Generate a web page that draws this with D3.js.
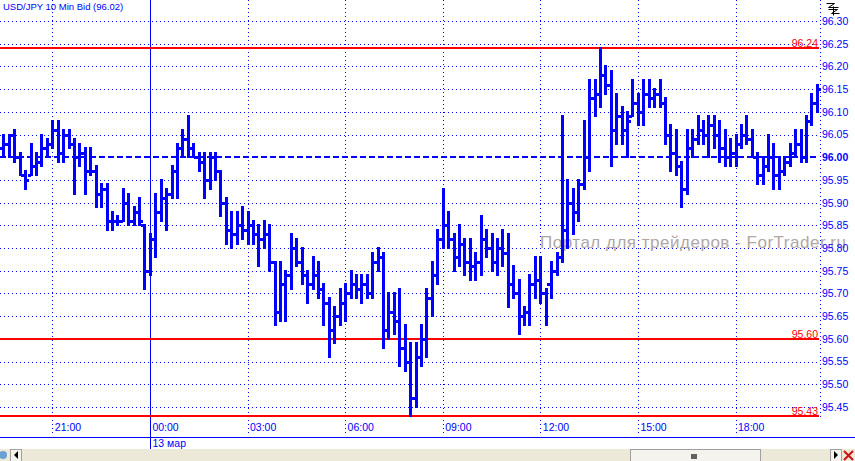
<!DOCTYPE html>
<html>
<head>
<meta charset="utf-8">
<script src="https://cdn.jsdelivr.net/npm/d3@7"></script>
<style>
  body { margin: 0; background: #fff; }
  svg { display: block; font-family: "Liberation Sans", Arial, sans-serif; }
</style>
</head>
<body>
<div id="chart"></div>
<script>
const title = 'USD/JPY 10 Min Bid (96.02)';
const firstBar = new Date(2009, 2, 12, 19, 30);   // 10 minute bars from here

const highs = [
  96.05, 96.05, 96.06, 96.01, 95.97, 96.03, 96.01, 96.05, 96.04, 96.08,
  96.08, 96.06, 96.06, 96.04, 96.03, 96.02, 96.02, 95.98, 95.94, 95.94,
  95.88, 95.87, 95.93, 95.92, 95.89, 95.91, 95.85, 95.83, 95.92, 95.95,
  95.93, 95.98, 96.03, 96.06, 96.09, 96.03, 96.01, 96.01, 96.01, 96.01,
  95.97, 95.91, 95.88, 95.88, 95.89, 95.88, 95.86, 95.85, 95.86, 95.85,
  95.77, 95.77, 95.75, 95.83, 95.82, 95.80, 95.75, 95.78, 95.77, 95.72,
  95.69, 95.67, 95.71, 95.72, 95.75, 95.74, 95.74, 95.74, 95.79, 95.80,
  95.79, 95.70, 95.70, 95.71, 95.63, 95.59, 95.59, 95.63, 95.71, 95.77,
  95.84, 95.93, 95.88, 95.83, 95.85, 95.82, 95.82, 95.79, 95.87, 95.84,
  95.83, 95.82, 95.84, 95.83, 95.76, 95.73, 95.67, 95.74, 95.78, 95.78,
  95.71, 95.77, 95.79, 96.09, 95.95, 95.93, 95.95, 96.08, 96.17, 96.17,
  96.24, 96.20, 96.19, 96.14, 96.11, 96.10, 96.17, 96.14, 96.17, 96.17,
  96.15, 96.17, 96.13, 96.07, 96.06, 95.99, 96.06, 96.06, 96.09, 96.08,
  96.09, 96.09, 96.08, 96.06, 96.04, 96.05, 96.07, 96.09, 96.06, 96.01,
  96.00, 96.05, 96.03, 96.00, 96.00, 96.03, 96.06, 96.06, 96.09, 96.14,
  96.16
];
const lows = [
  96.00, 96.00, 95.99, 95.96, 95.93, 95.96, 95.96, 95.98, 96.00, 96.02,
  95.99, 95.99, 96.02, 95.92, 95.98, 95.92, 95.96, 95.89, 95.89, 95.84,
  95.84, 95.85, 95.86, 95.85, 95.85, 95.85, 95.71, 95.74, 95.78, 95.86,
  95.84, 95.91, 95.91, 96.00, 96.00, 96.00, 95.97, 95.91, 95.93, 95.95,
  95.87, 95.81, 95.80, 95.81, 95.82, 95.81, 95.81, 95.76, 95.80, 95.75,
  95.63, 95.64, 95.64, 95.71, 95.76, 95.72, 95.68, 95.71, 95.69, 95.63,
  95.56, 95.59, 95.63, 95.64, 95.69, 95.69, 95.68, 95.69, 95.69, 95.75,
  95.58, 95.60, 95.61, 95.54, 95.53, 95.43, 95.45, 95.54, 95.56, 95.65,
  95.72, 95.80, 95.80, 95.75, 95.76, 95.74, 95.73, 95.73, 95.74, 95.78,
  95.75, 95.74, 95.76, 95.67, 95.69, 95.61, 95.63, 95.63, 95.69, 95.68,
  95.63, 95.69, 95.74, 95.77, 95.80, 95.83, 95.86, 95.93, 95.97, 96.09,
  96.11, 96.14, 95.98, 96.03, 96.03, 96.00, 96.09, 96.07, 96.07, 96.11,
  96.11, 96.11, 96.03, 95.97, 95.96, 95.89, 95.92, 96.00, 96.03, 96.03,
  96.00, 96.02, 95.99, 95.98, 95.98, 95.98, 96.02, 96.03, 96.00, 95.94,
  95.94, 95.97, 95.93, 95.93, 95.96, 95.98, 96.00, 95.99, 95.99, 96.07,
  96.10
];
const opens = [
  96.02, 96.03, 96.05, 96.00, 95.96, 95.96, 95.98, 95.99, 96.02, 96.03,
  96.06, 96.01, 96.05, 96.03, 96.00, 96.01, 95.97, 95.97, 95.92, 95.93,
  95.86, 95.86, 95.86, 95.90, 95.86, 95.88, 95.85, 95.75, 95.82, 95.88,
  95.91, 95.92, 95.97, 96.02, 96.04, 96.02, 96.00, 95.99, 95.95, 96.00,
  95.97, 95.90, 95.84, 95.83, 95.85, 95.84, 95.85, 95.83, 95.82, 95.83,
  95.77, 95.66, 95.72, 95.74, 95.80, 95.77, 95.74, 95.72, 95.74, 95.71,
  95.68, 95.62, 95.65, 95.68, 95.70, 95.72, 95.71, 95.72, 95.70, 95.77,
  95.78, 95.62, 95.66, 95.64, 95.58, 95.55, 95.47, 95.56, 95.60, 95.69,
  95.74, 95.82, 95.85, 95.82, 95.78, 95.81, 95.77, 95.76, 95.77, 95.82,
  95.80, 95.77, 95.80, 95.79, 95.72, 95.70, 95.65, 95.66, 95.72, 95.73,
  95.70, 95.72, 95.75, 95.78, 95.84, 95.90, 95.88, 95.94, 96.00, 96.13,
  96.14, 96.18, 96.16, 96.06, 96.09, 96.06, 96.09, 96.12, 96.10, 96.14,
  96.13, 96.14, 96.12, 96.05, 96.01, 95.98, 95.93, 96.02, 96.04, 96.06,
  96.05, 96.07, 96.05, 96.02, 96.00, 96.01, 96.03, 96.05, 96.04, 96.00,
  95.96, 95.98, 96.00, 95.96, 95.97, 95.99, 96.01, 96.03, 96.00, 96.08,
  96.12
];
const closes = [
  96.03, 96.05, 96.00, 95.96, 95.95, 95.98, 95.99, 96.02, 96.03, 96.06,
  96.01, 96.05, 96.03, 96.00, 96.01, 95.97, 95.97, 95.92, 95.93, 95.86,
  95.86, 95.86, 95.90, 95.86, 95.88, 95.86, 95.75, 95.82, 95.88, 95.91,
  95.92, 95.97, 96.02, 96.04, 96.02, 96.00, 95.99, 95.95, 96.00, 95.97,
  95.90, 95.84, 95.83, 95.85, 95.84, 95.85, 95.83, 95.82, 95.83, 95.77,
  95.66, 95.72, 95.74, 95.80, 95.77, 95.74, 95.72, 95.74, 95.71, 95.68,
  95.62, 95.65, 95.68, 95.70, 95.72, 95.71, 95.72, 95.70, 95.77, 95.78,
  95.62, 95.66, 95.64, 95.58, 95.55, 95.47, 95.56, 95.60, 95.69, 95.74,
  95.82, 95.85, 95.82, 95.78, 95.81, 95.77, 95.76, 95.77, 95.82, 95.80,
  95.77, 95.80, 95.79, 95.72, 95.70, 95.65, 95.66, 95.72, 95.73, 95.70,
  95.72, 95.75, 95.78, 95.84, 95.90, 95.88, 95.94, 96.00, 96.13, 96.14,
  96.18, 96.16, 96.06, 96.09, 96.06, 96.08, 96.12, 96.10, 96.14, 96.13,
  96.14, 96.12, 96.05, 96.01, 95.98, 95.93, 96.02, 96.04, 96.06, 96.05,
  96.07, 96.05, 96.02, 96.00, 96.01, 96.03, 96.05, 96.04, 96.00, 95.96,
  95.98, 96.00, 95.96, 95.97, 95.99, 96.01, 96.03, 96.00, 96.08, 96.12,
  96.15
];

const priceTicks = [95.45, 95.50, 95.55, 95.60, 95.65, 95.70, 95.75, 95.80, 95.85,
                    95.90, 95.95, 96.00, 96.05, 96.10, 96.15, 96.20, 96.25, 96.30];
const timeTicks = ['21:00', '00:00', '03:00', '06:00', '09:00', '12:00', '15:00', '18:00'];
const dayLabel = '13 мар';
const redLevels = [96.24, 95.60, 95.43];
const dashedLevel = 96.00;
const watermark = 'Портал для трейдеров - ForTrader.ru';

const W = 855, H = 461;
const plotRight = 820, plotBottom = 437;
const blue = '#0000ff', red = '#ff0000';

const svg = d3.select('#chart').append('svg')
    .attr('width', W)
    .attr('height', H);

const x = d3.scaleTime()
    .domain([new Date(2009, 2, 12, 21, 0), new Date(2009, 2, 13, 18, 0)])
    .range([52.3, 735.5]);

const y = d3.scaleLinear()
    .domain([95.45, 96.30])
    .range([407, 21]);

const bars = highs.map((h, i) => ({
  date: d3.timeMinute.offset(firstBar, i * 10),
  high: h, low: lows[i], open: opens[i], close: closes[i]
}));

const tickDates = timeTicks.map((t, i) => d3.timeHour.offset(new Date(2009, 2, 12, 21, 0), i * 3));
const px = v => Math.round(v) + 0.5;

// grid
const grid = svg.append('g').attr('stroke', blue).attr('stroke-width', 1)
    .attr('stroke-dasharray', '1,3').attr('shape-rendering', 'crispEdges');

grid.selectAll('.hgrid')
  .data(priceTicks.filter(d => d !== dashedLevel))
  .enter().append('line')
    .attr('x1', 0).attr('x2', plotRight - 1)
    .attr('y1', d => px(y(d))).attr('y2', d => px(y(d)));

grid.selectAll('.vgrid')
  .data(tickDates.filter((d, i) => i !== 1))
  .enter().append('line')
    .attr('x1', d => px(x(d))).attr('x2', d => px(x(d)))
    .attr('y1', 0).attr('y2', 435);

// right axis border
grid.append('line')
    .attr('x1', plotRight + 0.5).attr('x2', plotRight + 0.5)
    .attr('y1', 0).attr('y2', 420);

// day separator
svg.append('line')
    .attr('x1', px(x(tickDates[1]))).attr('x2', px(x(tickDates[1])))
    .attr('y1', 0).attr('y2', 449)
    .attr('stroke', blue).attr('shape-rendering', 'crispEdges');

// bottom axis line
svg.append('line')
    .attr('x1', 0).attr('x2', W)
    .attr('y1', plotBottom + 0.5).attr('y2', plotBottom + 0.5)
    .attr('stroke', blue).attr('shape-rendering', 'crispEdges');

// watermark (runs over the price scale, as in the source)
svg.append('text')
    .attr('x', 540).attr('y', 248)
    .attr('font-size', 17)
    .attr('textLength', 306)
    .attr('lengthAdjust', 'spacing')
    .attr('fill', '#b0a6a6')
    .text(watermark);

// 96.00 dashed line
svg.append('line')
    .attr('x1', 0).attr('x2', plotRight - 1)
    .attr('y1', Math.round(y(dashedLevel))).attr('y2', Math.round(y(dashedLevel)))
    .attr('stroke', blue).attr('stroke-width', 2)
    .attr('stroke-dasharray', '6,3');

// red levels
svg.selectAll('.level')
  .data(redLevels)
  .enter().append('line')
    .attr('x1', 0).attr('x2', plotRight - 1)
    .attr('y1', d => Math.round(y(d))).attr('y2', d => Math.round(y(d)))
    .attr('stroke', red).attr('stroke-width', 2);

svg.selectAll('.levelLabel')
  .data(redLevels)
  .enter().append('text')
    .attr('x', plotRight - 2).attr('y', d => Math.round(y(d)) - 1.5)
    .attr('text-anchor', 'end')
    .attr('font-size', 10.5)
    .attr('fill', red)
    .text(d => d.toFixed(2));

// OHLC bars
const barG = svg.append('g').attr('fill', blue).attr('shape-rendering', 'crispEdges');
bars.forEach(d => {
  const cx = Math.round(x(d.date));
  const yh = Math.round(y(d.high)), yl = Math.round(y(d.low));
  barG.append('rect').attr('x', cx - 1).attr('y', yh - 1).attr('width', 3).attr('height', yl - yh + 2);
  barG.append('rect').attr('x', cx - 3).attr('y', Math.round(y(d.open)) - 1).attr('width', 3).attr('height', 3);
  barG.append('rect').attr('x', cx + 1).attr('y', Math.round(y(d.close)) - 1).attr('width', 3).attr('height', 3);
});

// right price axis
const yAxis = svg.append('g')
    .attr('transform', `translate(${plotRight}, 0)`)
    .call(d3.axisRight(y).tickValues(priceTicks).tickSize(0).tickPadding(2).tickFormat(d3.format('.2f')));
yAxis.select('.domain').remove();
yAxis.selectAll('text')
    .attr('fill', blue)
    .attr('font-size', 10.5)
    .attr('font-family', '"Liberation Sans", Arial, sans-serif')
    .attr('font-weight', d => d === dashedLevel ? 'bold' : 'normal');

// bottom time axis
const xAxis = svg.append('g')
    .attr('transform', 'translate(0, 424)')
    .call(d3.axisBottom(x).tickValues(tickDates).tickSize(0).tickPadding(0).tickFormat((d, i) => timeTicks[i]));
xAxis.select('.domain').remove();
xAxis.selectAll('text')
    .attr('fill', blue)
    .attr('font-size', 10.5)
    .attr('font-family', '"Liberation Sans", Arial, sans-serif')
    .attr('text-anchor', 'start')
    .attr('dx', 2);

svg.append('text')
    .attr('x', px(x(tickDates[1])) + 2).attr('y', 447)
    .attr('font-size', 10.5).attr('fill', blue)
    .text(dayLabel);

// title
svg.append('text')
    .attr('x', 3).attr('y', 10)
    .attr('font-size', 9.5).attr('fill', blue)
    .text(title);

// small toolbar glyph at top right
svg.append('path')
    .attr('d', 'M826.5,3.5 h8 l-6,4 h10 M828.5,9.5 h9 l-6,4 h8 M833.5,6.5 v9')
    .attr('fill', 'none').attr('stroke', '#000').attr('stroke-width', 1);

// scrollbar strip
const sb = svg.append('g');
sb.append('rect').attr('x', 0).attr('y', 449).attr('width', W).attr('height', 12).attr('fill', '#ece9d8');
sb.append('rect').attr('x', 10.5).attr('y', 449.5).attr('width', 11).attr('height', 12).attr('fill', '#f4f3ee').attr('stroke', '#a0a0a0');
sb.append('path').attr('d', 'M14,455 L18,451 L18,459 Z').attr('fill', '#000');
sb.append('rect').attr('x', 630.5).attr('y', 449.5).attr('width', 130).attr('height', 12).attr('fill', '#f4f3ee').attr('stroke', '#a0a0a0');
sb.append('path').attr('d', 'M692,454 v5 M694,454 v5 M696,454 v5').attr('stroke', '#000').attr('stroke-width', 1.2);
sb.append('rect').attr('x', 830.5).attr('y', 449.5).attr('width', 11).attr('height', 12).attr('fill', '#f4f3ee').attr('stroke', '#a0a0a0');
sb.append('path').attr('d', 'M834,451 L838,455 L834,459 Z').attr('fill', '#000');
sb.append('path').attr('d', 'M844,451 L853,460 M853,451 L844,460').attr('stroke', '#d01010').attr('stroke-width', 2);
sb.append('circle').attr('cx', 3).attr('cy', 455).attr('r', 4).attr('fill', '#6a9fd6');
</script>
</body>
</html>
